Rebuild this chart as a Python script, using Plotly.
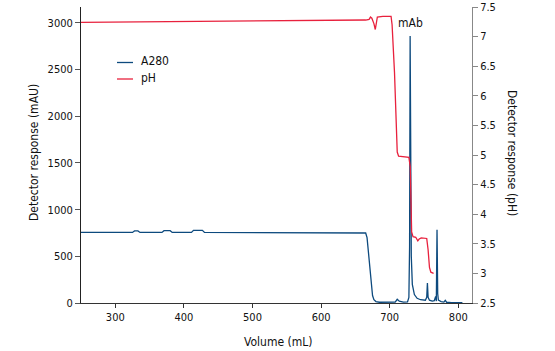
import plotly.graph_objects as go

# A280 trace (mAU)
vol_a280 = [250, 325, 328, 333, 336, 368, 371, 380, 383, 411, 414, 427, 430, 600, 663, 665, 667, 669, 671,
            673, 675, 677, 680, 685, 700, 708, 711, 714, 720, 726, 728, 729, 729.8, 730.5, 731.5, 733, 736,
            740, 745, 752, 754, 755, 756, 758, 762, 765, 767, 768, 769, 770, 771, 775, 779, 781, 783, 790, 806]
a280 = [756, 756, 772, 772, 756, 756, 775, 775, 756, 756, 778, 778, 756, 756, 757, 750, 700, 550, 350,
        180, 80, 35, 15, 8, 6, 10, 40, 20, 10, 12, 60, 600, 2860, 1500, 500, 200, 90,
        50, 35, 30, 60, 215, 60, 30, 20, 25, 70, 20, 785, 100, 30, 15, 10, 28, 8, 5, 3]

# pH trace
vol_ph = [250, 400, 500, 600, 665, 670, 672, 674, 677, 679, 680.5, 682, 690, 702, 703.5, 705, 707, 708.5,
          710, 711, 713, 720, 728, 730, 731, 732, 734, 738, 741, 743, 746, 754, 756, 758, 760, 764]
ph = [7.24, 7.25, 7.26, 7.27, 7.28, 7.29, 7.33, 7.31, 7.22, 7.12, 7.2, 7.33, 7.34, 7.34, 7.2, 6.9, 6.4, 5.9,
      5.3, 5.05, 4.98, 4.97, 4.96, 4.8, 4.2, 3.7, 3.62, 3.61, 3.55, 3.58, 3.6, 3.59, 3.4, 3.1, 3.02, 3.0]

series_names = ["A280", "pH"]
x_ticks = [300, 400, 500, 600, 700, 800]
y1_ticks = [0, 500, 1000, 1500, 2000, 2500, 3000]
y2_ticks = [2.5, 3, 3.5, 4, 4.5, 5, 5.5, 6, 6.5, 7, 7.5]

FONT = "DejaVu Sans Condensed, Liberation Sans Narrow, sans-serif"
FS = 11
BLUE = "#0d4a7e"
RED = "#e8213d"
COLORS = [BLUE, RED]

W, H = 555, 351
L, R, T, B = 81, 83, 7, 48
pw, phh = W - L - R, H - T - B


def px2paper(px, py):
    return (px - L) / pw, 1 - (py - T) / phh


fig = go.Figure()
fig.add_trace(go.Scatter(x=vol_a280, y=a280, mode="lines", name=series_names[0],
                         line=dict(color=BLUE, width=1.3), yaxis="y", showlegend=False))
fig.add_trace(go.Scatter(x=vol_ph, y=ph, mode="lines", name=series_names[1],
                         line=dict(color=RED, width=1.3), yaxis="y2", showlegend=False))

annotations = [
    dict(text="mAb", x=731, y=2900, xref="x", yref="y", showarrow=False,
         font=dict(size=FS + 1), yanchor="bottom"),
]
shapes = []


def add_text(text, px, py, angle=0, xanchor="center", size=FS + 1):
    x, y = px2paper(px, py)
    annotations.append(dict(text=text, x=x, y=y, xref="paper", yref="paper", showarrow=False,
                            textangle=angle, xanchor=xanchor, yanchor="middle",
                            font=dict(size=size)))


add_text("Detector response (mAU)", 34, 153, angle=-90)
add_text("Volume (mL)", 278, 342)
add_text("Detector response (pH)", 512, 153, angle=90)

# manual legend
for i, (name, col) in enumerate(zip(series_names, COLORS)):
    py = 62.5 + i * 16.5
    x0, y0 = px2paper(117, py)
    x1, _ = px2paper(133, py)
    shapes.append(dict(type="line", xref="paper", yref="paper", x0=x0, x1=x1, y0=y0, y1=y0,
                       line=dict(color=col, width=1.3)))
    add_text(name, 139, py - 1.5, xanchor="left")

fig.update_layout(
    width=W, height=H,
    margin=dict(l=L, r=R, t=T, b=B, autoexpand=False),
    paper_bgcolor="white", plot_bgcolor="white",
    font=dict(family=FONT, size=FS, color="#111"),
    showlegend=False,
    xaxis=dict(range=[250, 820], tickvals=x_ticks, ticks="outside", ticklen=4,
               showgrid=False, zeroline=False, showline=True, linecolor="#333",
               linewidth=1, tickcolor="#333", tickfont=dict(size=FS), automargin=False),
    yaxis=dict(range=[0, 3171], tickvals=y1_ticks, ticks="outside", ticklen=5,
               showgrid=False, zeroline=False, showline=True, linecolor="#222",
               linewidth=1, tickcolor="#555", tickfont=dict(size=FS), automargin=False),
    yaxis2=dict(range=[2.5, 7.5], tickvals=y2_ticks, overlaying="y", side="right",
                ticks="outside", ticklen=5, showgrid=False, zeroline=False,
                showline=True, linecolor="#888", linewidth=1, tickcolor="#888",
                tickfont=dict(size=FS), automargin=False),
    annotations=annotations,
    shapes=shapes,
)

fig.write_html("out.html")
